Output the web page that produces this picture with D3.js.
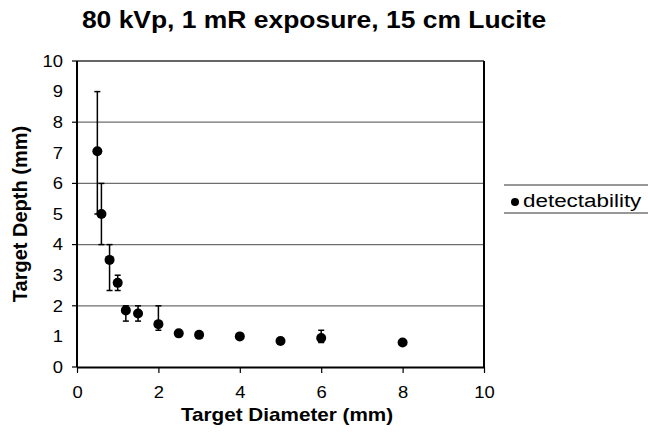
<!DOCTYPE html>
<html>
<head>
<meta charset="utf-8">
<script src="https://cdn.jsdelivr.net/npm/d3@7"></script>
<style>
  body { margin: 0; background: #fff; }
  text { font-family: "Liberation Sans", Arial, sans-serif; fill: #000; }
</style>
</head>
<body>
<div id="canvas"></div>
<script>
// target diameter (mm)
const diameters = [0.5, 0.6, 0.8, 1.0, 1.2, 1.5, 2, 2.5, 3, 4, 5, 6, 8];
// target depth (mm)
const depths = [7.05, 5.0, 3.5, 2.75, 1.85, 1.75, 1.4, 1.1, 1.05, 1.0, 0.85, 0.95, 0.8];
// error bar upper / lower ends
const errHigh = [9, 6, 4, 3, 2, 2, 2, 1.1, 1.1, 1.0, 0.95, 1.2, 0.8];
const errLow = [5, 4, 2.5, 2.5, 1.5, 1.5, 1.2, 1.1, 1.0, 1.0, 0.8, 0.8, 0.8];
const xTicks = [0, 2, 4, 6, 8, 10];
const yTicks = [0, 1, 2, 3, 4, 5, 6, 7, 8, 9, 10];
const gridValues = [2, 4, 6, 8];
const seriesName = "detectability";

const w = 648, h = 432;
const plot = { left: 77, right: 484, top: 61, bottom: 367 };
const stretch = 1.15; // the original text is a bit wide

const data = diameters.map((d, i) => ({ x: d, y: depths[i], hi: errHigh[i], lo: errLow[i] }));

const svg = d3.select("#canvas").append("svg")
  .attr("width", w).attr("height", h);

const x = d3.scaleLinear().domain([0, 10]).range([plot.left, plot.right]);
const y = d3.scaleLinear().domain([0, 10]).range([plot.bottom, plot.top]);

function wideText(sel, tx, ty, s) {
  return sel.append("text")
    .attr("transform", "translate(" + tx + "," + ty + ") scale(" + (s || stretch) + ",1)");
}

// gridlines
svg.append("g").selectAll("line")
  .data(gridValues).enter().append("line")
  .attr("x1", plot.left).attr("x2", plot.right)
  .attr("y1", d => y(d)).attr("y2", d => y(d))
  .style("stroke", "#6e6e6e").style("stroke-width", 1.2);

// frame top & right
svg.append("line").attr("x1", plot.left).attr("x2", plot.right)
  .attr("y1", plot.top).attr("y2", plot.top)
  .style("stroke", "#333").style("stroke-width", 1.5);
svg.append("line").attr("x1", plot.right).attr("x2", plot.right)
  .attr("y1", plot.top).attr("y2", plot.bottom)
  .style("stroke", "#000").style("stroke-width", 2);

// y axis: ticks on even values, labels on every integer
const yAxis = svg.append("g");
yAxis.append("line").attr("x1", plot.left).attr("x2", plot.left)
  .attr("y1", plot.top).attr("y2", plot.bottom)
  .style("stroke", "#000").style("stroke-width", 2);
yAxis.selectAll(".tick").data(yTicks.filter(d => d % 2 === 0)).enter().append("line")
  .attr("x1", plot.left - 5).attr("x2", plot.left)
  .attr("y1", d => y(d)).attr("y2", d => y(d))
  .style("stroke", "#000").style("stroke-width", 1.2);
yTicks.forEach(d => {
  wideText(yAxis, plot.left - 14, y(d))
    .attr("dy", "0.36em").attr("text-anchor", "end")
    .style("font-size", "16px").text(d);
});

// x axis
const xAxis = d3.axisBottom(x).tickValues(xTicks).tickSize(6).tickPadding(14).tickSizeOuter(0);
const gx = svg.append("g").attr("transform", "translate(0," + plot.bottom + ")").call(xAxis);
gx.select(".domain").style("stroke-width", 2);
gx.selectAll(".tick line").style("stroke-width", 1.2);
gx.selectAll("text").style("font-size", "16px")
  .style("font-family", "\"Liberation Sans\", Arial, sans-serif")
  .attr("transform", "scale(" + stretch + ",1)");

// error bars
const eb = svg.append("g").selectAll("g").data(data.filter(d => d.hi !== d.lo)).enter().append("g");
eb.append("line")
  .attr("x1", d => x(d.x)).attr("x2", d => x(d.x))
  .attr("y1", d => y(d.hi)).attr("y2", d => y(d.lo))
  .style("stroke", "#000").style("stroke-width", 1.5);
eb.append("line")
  .attr("x1", d => x(d.x) - 3).attr("x2", d => x(d.x) + 3)
  .attr("y1", d => y(d.hi)).attr("y2", d => y(d.hi))
  .style("stroke", "#000").style("stroke-width", 1.5);
eb.append("line")
  .attr("x1", d => x(d.x) - 3).attr("x2", d => x(d.x) + 3)
  .attr("y1", d => y(d.lo)).attr("y2", d => y(d.lo))
  .style("stroke", "#000").style("stroke-width", 1.5);

// points
svg.append("g").selectAll("circle").data(data).enter().append("circle")
  .attr("cx", d => x(d.x)).attr("cy", d => y(d.y)).attr("r", 5)
  .style("fill", "#000");

// titles
wideText(svg, 314, 28)
  .attr("text-anchor", "middle").style("font-size", "23px").style("font-weight", "bold")
  .text("80 kVp, 1 mR exposure, 15 cm Lucite");
wideText(svg, 287, 421)
  .attr("text-anchor", "middle").style("font-size", "18px").style("font-weight", "bold")
  .text("Target Diameter (mm)");
svg.append("text").attr("transform", "translate(27," + ((plot.top + plot.bottom) / 2) + ") rotate(-90)")
  .attr("text-anchor", "middle").style("font-size", "20px").style("font-weight", "bold")
  .text("Target Depth (mm)");

// legend
const legend = svg.append("g");
legend.selectAll("line").data([185, 213]).enter().append("line")
  .attr("x1", 504).attr("x2", w)
  .attr("y1", d => d).attr("y2", d => d)
  .style("stroke", "#333").style("stroke-width", 1.2);
legend.append("circle").attr("cx", 515).attr("cy", 202).attr("r", 4).style("fill", "#000");
wideText(legend, 523, 207, 1.18)
  .style("font-size", "19px").text(seriesName);
</script>
</body>
</html>
